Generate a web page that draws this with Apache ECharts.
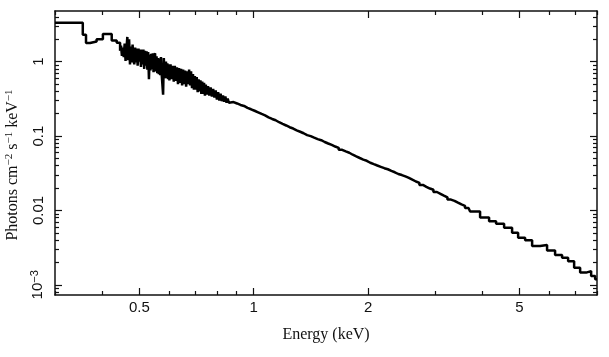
<!DOCTYPE html>
<html><head><meta charset="utf-8">
<script src="https://cdn.jsdelivr.net/npm/echarts@6.0.0/dist/echarts.min.js"></script>
<style>html,body{margin:0;padding:0;background:#fff}#c{width:609px;height:357px}</style>
</head><body><div id="c"></div>
<script>
// Lower edge of each energy bin (keV)
const binLo = [
 0.300,0.355,0.362,0.371,0.386,0.401,0.423,0.436,
 0.445,0.4475,0.45,0.4525,0.455,0.4575,0.46,0.4625,0.465,0.4675,0.47,0.4725,0.475,0.4775,0.48,0.4825,
 0.485,0.4875,0.49,0.4925,0.495,0.4975,0.5,0.5025,0.505,0.5075,0.51,0.5125,0.515,0.5175,0.52,0.5225,
 0.525,0.5275,0.53,0.5325,0.535,0.5375,0.54,0.5425,0.545,0.5475,0.55,0.5525,0.555,0.5575,0.56,0.5625,
 0.565,0.5675,0.57,0.5725,0.575,0.5775,0.58,0.5825,0.585,0.5875,0.59,0.5925,0.595,0.5975,
 0.600,0.604,0.608,0.612,0.616,0.620,0.624,0.628,0.632,0.636,0.640,0.644,0.648,0.652,0.656,0.660,
 0.664,0.668,0.672,0.676,0.680,0.684,0.688,0.692,0.696,0.700,0.704,0.708,0.712,0.716,0.720,0.724,
 0.728,0.732,0.736,0.740,0.744,0.748,
 0.752,0.758,0.764,0.770,0.776,0.782,0.788,0.794,0.800,0.806,0.812,0.818,0.824,0.830,0.836,0.842,0.848,0.854,0.860,
 0.866,0.885,0.904,0.923,0.943,0.963,0.984,1.005,1.027,1.049,1.071,1.094,1.118,1.142,1.166,1.191,1.217,1.243,1.270,1.297,
 1.325,1.353,1.382,1.412,1.442,1.473,1.505,1.537,1.570,1.604,1.638,1.673,1.709,1.746,1.784,1.822,1.861,1.901,1.942,1.983,
 2.026,2.070,2.114,2.159,2.206,2.253,2.302,2.351,2.401,2.453,2.506,2.560,2.614,2.671,2.728,2.787,2.846,2.908,2.970,3.034,
 3.099,3.165,3.233,3.303,3.374,3.446,3.520,3.596,3.673,
 3.709,3.940,4.161,4.341,4.557,4.783,4.961,5.176,5.400,5.667,5.912,6.206,6.475,6.716,6.965,7.223,7.491,7.721,7.911
];
// Photon flux in each bin (photons cm^-2 s^-1 keV^-1)
const flux = [
 3.34,2.30,1.78,1.87,2.00,2.36,1.93,1.80,
 1.40,1.65,1.20,1.55,1.15,1.75,1.02,1.50,2.15,1.05,2.00,0.92,1.60,0.98,1.70,1.05,
 0.92,1.55,0.98,1.50,0.88,1.50,1.00,1.45,0.85,1.45,0.92,1.45,0.80,1.40,0.88,1.38,
 0.78,1.35,0.58,1.25,0.76,1.28,0.80,1.30,0.72,1.22,1.30,0.74,1.18,0.70,1.12,0.68,
 1.10,0.66,1.15,0.68,0.70,0.36,1.12,0.66,0.60,1.00,0.60,0.95,0.58,0.92,
 0.56,0.92,0.58,0.88,0.54,0.88,0.55,0.84,0.50,0.82,0.52,0.80,0.48,0.78,0.50,0.76,
 0.46,0.74,0.50,0.78,0.48,0.74,0.44,0.68,0.42,0.64,0.42,0.62,0.39,0.58,0.40,0.56,
 0.37,0.54,0.37,0.52,0.35,0.49,
 0.36,0.47,0.35,0.45,0.34,0.43,0.33,0.41,0.31,0.39,0.30,0.37,0.295,0.35,0.29,0.34,0.28,0.32,0.28,
 0.2864,0.2742,0.2618,0.2540,0.2393,0.2291,0.2188,0.2084,0.1982,0.1900,0.1786,0.1698,0.1630,0.1535,0.1459,0.1387,0.1315,0.1262,0.1194,0.1143,
 0.1091,0.1030,0.0998,0.0953,0.0910,0.0880,0.0832,0.0794,0.0760,0.0723,0.0695,0.0653,0.0621,0.0596,0.0561,0.0533,0.0507,0.0483,0.0465,0.0438,
 0.0419,0.0402,0.0386,0.0370,0.0358,0.0340,0.0326,0.0309,0.0299,0.0287,0.0274,0.0259,0.0245,0.0235,0.0220,0.0208,0.0197,0.0190,0.0177,0.01675,
 0.01585,0.0150,0.01400,0.01346,0.01271,0.01205,0.01155,0.01076,0.01021,
 0.00970,0.00805,0.00718,0.00664,0.00586,0.00502,0.00431,0.00399,0.00332,0.00342,0.00290,0.00251,0.00232,0.00208,0.00170,0.00146,0.00153,0.00131,0.00119
];
const lastEdge = 8.0;

const xMajor = [0.5, 1, 2, 5];
const xMinor = [0.3, 0.4, 0.6, 0.7, 0.8, 0.9, 3, 4, 6, 7, 8];
const yMajor = [1, 0.1, 0.01, 0.001];
const yMinor = [0.0008,0.0009,0.002,0.003,0.004,0.005,0.006,0.007,0.008,0.009,
  0.02,0.03,0.04,0.05,0.06,0.07,0.08,0.09,0.2,0.3,0.4,0.5,0.6,0.7,0.8,0.9,2,3,4];
const xRange = [0.3, 8];
const yRange = [0.00073, 4.8];

const stepData = binLo.map((e, i) => [e, flux[i]]);
stepData.push([lastEdge, flux[flux.length - 1]]);

const AX = '#111';
const sansFont = '"Liberation Sans", Arial, sans-serif';
const serifFont = '"Liberation Serif", "Times New Roman", serif';

function xAxisDef(pos, ticks, len, withLabels, withLine) {
  const a = {
    type: 'log', logBase: 10, position: pos, min: xRange[0], max: xRange[1],
    axisLine: { show: withLine, lineStyle: { color: AX, width: 1.5 } },
    axisTick: { show: true, inside: true, length: len, customValues: ticks, lineStyle: { color: AX, width: 1.2 } },
    axisLabel: { show: false },
    splitLine: { show: false }, minorTick: { show: false }, minorSplitLine: { show: false }
  };
  if (withLabels) {
    a.axisLabel = { show: true, customValues: ticks, margin: 5, color: '#111', fontSize: 15, fontFamily: sansFont,
      formatter: v => String(+Number(v).toPrecision(3)) };
    a.name = 'Energy (keV)';
    a.nameLocation = 'middle';
    a.nameGap = 32;
    a.nameTextStyle = { fontFamily: serifFont, fontSize: 16, color: '#111' };
  }
  return a;
}
function yAxisDef(pos, ticks, len, withLabels, withLine) {
  const a = {
    type: 'log', logBase: 10, position: pos, min: yRange[0], max: yRange[1],
    axisLine: { show: withLine, lineStyle: { color: AX, width: 1.5 } },
    axisTick: { show: true, inside: true, length: len, customValues: ticks, lineStyle: { color: AX, width: 1.2 } },
    axisLabel: { show: false },
    splitLine: { show: false }, minorTick: { show: false }, minorSplitLine: { show: false }
  };
  if (withLabels) {
    a.axisLabel = { show: true, customValues: ticks, rotate: 90, margin: 9, color: '#111', fontSize: 15, fontFamily: sansFont,
      formatter: v => {
        if (Math.abs(v - 0.001) < 1e-7) return '{b|10}{s|\u22123}';
        return String(+Number(v).toPrecision(3));
      },
      rich: {
        b: { fontSize: 15, fontFamily: sansFont, color: '#111', lineHeight: 17 },
        s: { fontSize: 11, fontFamily: sansFont, color: '#111', verticalAlign: 'top', lineHeight: 11 }
      }
    };
    a.name = '{r|Photons cm}{s|\u22122}{r| s}{s|\u22121}{r| keV}{s|\u22121}';
    a.nameLocation = 'middle';
    a.nameGap = 28;
    a.nameTextStyle = {
      color: '#111', padding: [0, 24, 0, 0],
      rich: {
        r: { fontFamily: serifFont, fontSize: 16, color: '#111', lineHeight: 18 },
        s: { fontFamily: serifFont, fontSize: 11, color: '#111', verticalAlign: 'top', lineHeight: 11 }
      }
    };
  }
  return a;
}

const chart = echarts.init(document.getElementById('c'), null, { renderer: 'canvas' });
chart.setOption({
  animation: false,
  backgroundColor: '#fff',
  grid: { left: 55, right: 12, top: 11, bottom: 62, containLabel: false, outerBoundsMode: 'none' },
  xAxis: [
    xAxisDef('bottom', xMajor, 7, true, true),
    xAxisDef('bottom', xMinor, 4, false, false),
    xAxisDef('top', xMajor, 7, false, true),
    xAxisDef('top', xMinor, 4, false, false)
  ],
  yAxis: [
    yAxisDef('left', yMajor, 7, true, true),
    yAxisDef('left', yMinor, 4, false, false),
    yAxisDef('right', yMajor, 7, false, true),
    yAxisDef('right', yMinor, 4, false, false)
  ],
  series: [{
    type: 'line', xAxisIndex: 0, yAxisIndex: 0, step: 'end',
    data: stepData, showSymbol: false, symbol: 'none', clip: true,
    lineStyle: { color: '#000', width: 2.5 }
  }]
});
</script>
</body></html>
